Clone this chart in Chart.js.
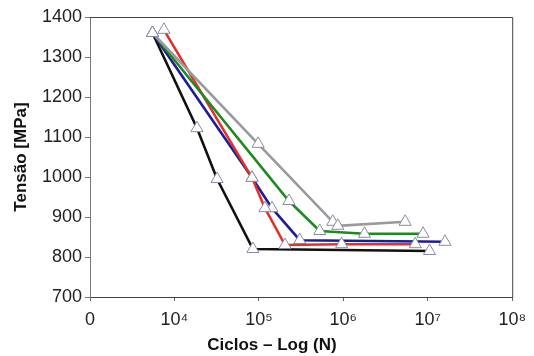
<!DOCTYPE html>
<html>
<head>
<meta charset="utf-8">
<script src="https://cdn.jsdelivr.net/npm/chart.js@4"></script>
<style>
  body { margin: 0; background: #fff; }
  #wrap { width: 534px; height: 356px; }
</style>
</head>
<body>
<div id="wrap"><canvas id="sn-chart"></canvas></div>
<script>
// x ticks (log scale, the 10^3 tick is printed as "0")
const xTicks = [1e3, 1e4, 1e5, 1e6, 1e7, 1e8];
const xTickLabels = ['0', '10\u2074', '10\u2075', '10\u2076', '10\u2077', '10\u2078'];

// cycles / stress per curve
const blackCycles = [5500, 18500, 32000, 85000, 10500000];
const blackStress = [1360, 1122, 995, 820, 815];

const blueCycles = [5500, 83000, 143000, 305000, 16000000];
const blueStress = [1360, 998, 922, 842, 838];

const redCycles = [7500, 83000, 118000, 204000, 955000, 7100000];
const redStress = [1368, 998, 922, 830, 832, 832];

const greenCycles = [5500, 227000, 526000, 1780000, 8800000];
const greenStress = [1360, 940, 865, 858, 858];

const grayCycles = [5500, 98000, 750000, 860000, 5400000];
const grayStress = [1360, 1083, 888, 878, 888];

const toPoints = (xs, ys) => xs.map((x, i) => ({x: x, y: ys[i]}));

const fontName = "'Liberation Sans', Arial, sans-serif";

function series(xs, ys, color) {
    return {
        data: toPoints(xs, ys),
        borderColor: color,
        borderWidth: 2.6,
        pointStyle: 'triangle',
        pointRadius: 7,
        pointBackgroundColor: '#ffffff',
        pointBorderColor: '#8a8aa6',
        pointBorderWidth: 1,
        tension: 0
    };
}

// box around the plot + x title placed off-centre like the original
const framePlugin = {
    id: 'frame',
    afterDraw(chart) {
        const ctx = chart.ctx;
        const a = chart.chartArea;
        ctx.save();
        ctx.strokeStyle = '#444';
        ctx.lineWidth = 1;
        ctx.beginPath();
        ctx.moveTo(a.left, a.top + 0.5);
        ctx.lineTo(a.right + 0.5, a.top + 0.5);
        ctx.lineTo(a.right + 0.5, a.bottom);
        ctx.stroke();
        ctx.fillStyle = '#111';
        ctx.font = 'bold 17px ' + fontName;
        ctx.textAlign = 'center';
        ctx.textBaseline = 'middle';
        ctx.fillText('Ciclos \u2013 Log (N)', 272, 345);
        ctx.restore();
    }
};

const ctx = document.getElementById('sn-chart');

new Chart(ctx, {
    type: 'line',
    data: {
        datasets: [
            series(grayCycles, grayStress, '#9a9a9a'),
            series(greenCycles, greenStress, '#1f8a1f'),
            series(redCycles, redStress, '#e2312b'),
            series(blueCycles, blueStress, '#1d1d96'),
            series(blackCycles, blackStress, '#111111')
        ]
    },
    options: {
        responsive: true,
        maintainAspectRatio: false,
        animation: false,
        layout: { padding: { top: 17, right: 21, left: 0, bottom: 0 } },
        plugins: {
            legend: { display: false },
            tooltip: { enabled: false }
        },
        scales: {
            x: {
                type: 'logarithmic',
                min: 1e3,
                max: 1e8,
                afterBuildTicks: (scale) => {
                    scale.ticks = xTicks.map(v => ({value: v}));
                },
                afterFit: (scale) => { scale.height = 59; },
                ticks: {
                    autoSkip: false,
                    maxRotation: 0,
                    padding: 8,
                    color: '#222',
                    font: { family: fontName, size: 18 },
                    callback: (value) => {
                        const i = xTicks.indexOf(value);
                        return i >= 0 ? xTickLabels[i] : '';
                    }
                },
                grid: {
                    drawOnChartArea: false,
                    drawTicks: true,
                    tickLength: 4,
                    color: '#666'
                },
                border: { color: '#444', width: 1 }
            },
            y: {
                min: 700,
                max: 1400,
                afterFit: (scale) => { scale.width = 90; },
                ticks: {
                    stepSize: 100,
                    padding: 3,
                    color: '#222',
                    font: { family: fontName, size: 18 },
                    callback: (value) => String(value)
                },
                grid: {
                    drawOnChartArea: false,
                    drawTicks: true,
                    tickLength: 5,
                    color: '#777'
                },
                border: { color: '#777', width: 1 },
                title: {
                    display: true,
                    text: 'Tens\u00e3o [MPa]',
                    color: '#111',
                    padding: { top: 11, bottom: 0 },
                    font: { family: fontName, size: 17, weight: 'bold' }
                }
            }
        }
    },
    plugins: [framePlugin]
});
</script>
</body>
</html>
